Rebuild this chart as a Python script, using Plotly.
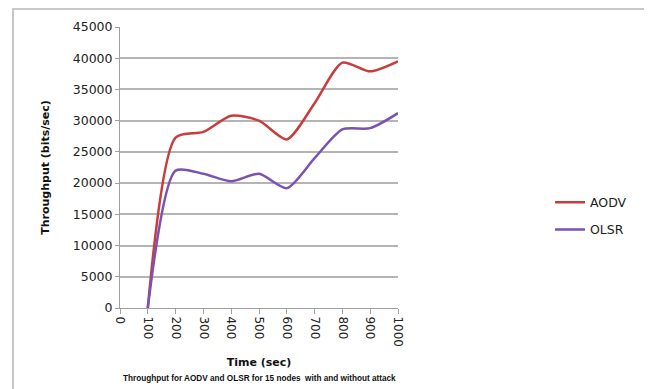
import plotly.graph_objects as go

time_sec = [100, 200, 300, 400, 500, 600, 700, 800, 900, 1000]
aodv = [0, 27300, 28200, 30800, 30000, 27000, 32800, 39300, 37900, 39500]
olsr = [0, 22000, 21500, 20300, 21500, 19200, 24000, 28600, 28800, 31200]
x_ticks = [0, 100, 200, 300, 400, 500, 600, 700, 800, 900, 1000]
y_ticks = [0, 5000, 10000, 15000, 20000, 25000, 30000, 35000, 40000, 45000]

FONT = "DejaVu Sans"
OFF = 8  # page body margin

fig = go.Figure()
fig.add_trace(go.Scatter(x=time_sec, y=aodv, name="AODV", mode="lines", legendgroup="a",
                         line=dict(color="#c83c3c", width=2.5, shape="spline", smoothing=0.7)))
fig.add_trace(go.Scatter(x=time_sec, y=olsr, name="OLSR", mode="lines", legendgroup="b",
                         line=dict(color="#7a52b0", width=2.5, shape="spline", smoothing=0.7)))

L, R, T, B = 120 - OFF, 398 - OFF, 27 - OFF, 308 - OFF
W, H = 652 - OFF, 389 - OFF
pw, ph = R - L, B - T

def px(x):
    return (x - OFF - L) / pw

def py(y):
    return (B - (y - OFF)) / ph

fig.update_layout(
    width=W, height=H,
    margin=dict(l=L, r=W - R, t=T, b=H - B, pad=0),
    paper_bgcolor="white", plot_bgcolor="white",
    font=dict(family=FONT, size=12, color="#222"),
    showlegend=True,
    legend=dict(x=px(550), y=py(216), xanchor="left", yanchor="middle",
                font=dict(family=FONT, size=12.5, color="#222"),
                tracegroupgap=8, itemwidth=30, bgcolor="rgba(0,0,0,0)"),
    xaxis=dict(range=[0, 1000], tickvals=x_ticks, ticktext=[str(v) for v in x_ticks],
               tickangle=90, showgrid=False, showline=True, linecolor="#a0a0a0", linewidth=1,
               ticks="outside", ticklen=5, tickcolor="#a0a0a0", zeroline=False,
               tickfont=dict(family=FONT, size=12, color="#222"),
               title=dict(text="<b>Time (sec)</b>", font=dict(family=FONT, size=11, color="#111"), standoff=12)),
    yaxis=dict(range=[0, 45000], tickvals=y_ticks, ticktext=[str(v) for v in y_ticks],
               showgrid=True, gridcolor="#b4b4b4", gridwidth=1.5, showline=True, linecolor="#a0a0a0",
               linewidth=1, ticks="outside", ticklen=4, tickcolor="#a0a0a0", zeroline=False,
               tickfont=dict(family=FONT, size=12.5, color="#222"),
               title=dict(text="<b>Throughput (bits/sec)</b>", font=dict(family=FONT, size=11, color="#111"), standoff=20)),
    shapes=[dict(type="path", xref="paper", yref="paper",
                 path=f"M {px(13)} {py(420)} L {px(13)} {py(9)} L {px(646)} {py(9)} L {px(646)} {py(420)}",
                 line=dict(color="#c8c8c8", width=2))],
    annotations=[dict(text="<b>Throughput for AODV and OLSR for 15 nodes  with and without attack</b>",
                      xref="paper", yref="paper", x=px(259), y=py(378), xanchor="center", yanchor="middle",
                      showarrow=False, font=dict(family="Liberation Sans", size=8.2, color="#111"))],
)

fig.write_html("out.html")
